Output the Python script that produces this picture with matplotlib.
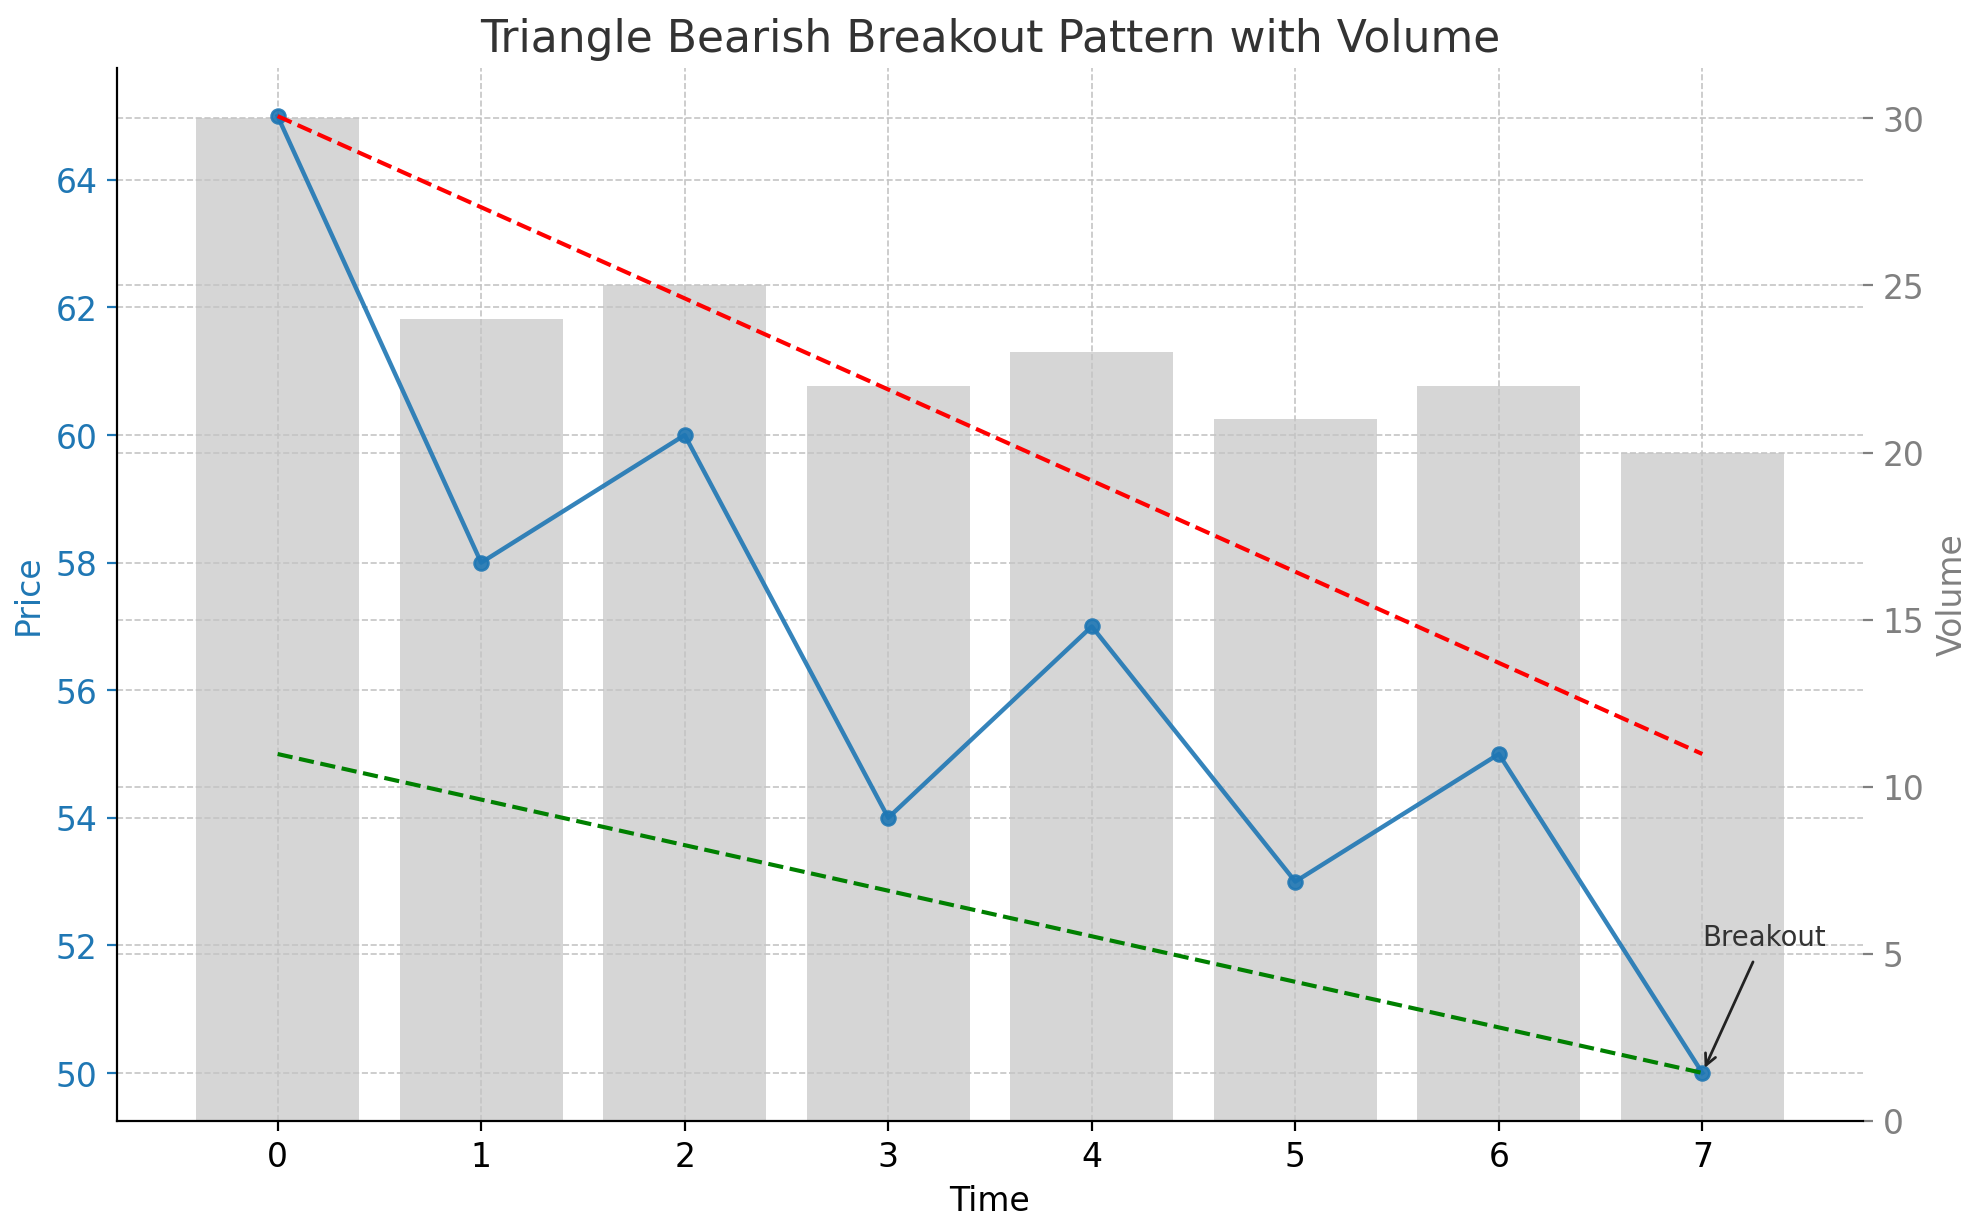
import matplotlib
matplotlib.use("Agg")
import matplotlib.pyplot as plt

time = [0, 1, 2, 3, 4, 5, 6, 7]
price = [65, 58, 60, 54, 57, 53, 55, 50]
volume = [30, 24, 25, 22, 23, 21, 22, 20]
upper_x = [0, 7]; upper_y = [65, 55]
lower_x = [0, 7]; lower_y = [55, 50]

fig, ax = plt.subplots(figsize=(10, 6.21), dpi=198)
ax2 = ax.twinx()
ax2.bar(time, volume, color="#d6d6d6", width=0.8)
ax2.set_ylim(0, 31.5)
ax2.set_ylabel("Volume", color="grey", fontsize=12)
ax2.tick_params(axis="y", colors="grey", labelsize=12)
ax2.grid(True, linestyle="--", color="#c4c4c4", linewidth=0.6)

ax.set_zorder(ax2.get_zorder() + 1)
ax.patch.set_visible(False)
ax.plot(time, price, marker="o", color="#1f77b4", linewidth=1.6, markersize=5, alpha=0.9)
ax.plot(upper_x, upper_y, "--", color="red", linewidth=1.5)
ax.plot(lower_x, lower_y, "--", color="green", linewidth=1.5)
ax.annotate("Breakout", xy=(7, 50), xytext=(7, 52), fontsize=10, color="#333333",
            arrowprops=dict(arrowstyle="->", color="#222222"))
ax.set_ylim(49.25, 65.75)
ax.set_xlim(-0.79, 7.79)
ax.set_xticks(time)
ax.set_ylabel("Price", color="#1f77b4", fontsize=12)
ax.set_xlabel("Time", fontsize=12)
ax.tick_params(axis="y", colors="#1f77b4", labelsize=12)
ax.tick_params(axis="x", labelsize=12)
ax.grid(True, linestyle="--", color="#c4c4c4", linewidth=0.6)
ax.set_title("Triangle Bearish Breakout Pattern with Volume", fontsize=16, color="#333333")
for a in (ax, ax2):
    a.spines["top"].set_visible(False)
    a.spines["right"].set_visible(False)
ax2.spines["left"].set_visible(False)
ax2.spines["bottom"].set_visible(False)
fig.subplots_adjust(left=0.059, right=0.941, bottom=0.088, top=0.944)
fig.savefig("out.png")
